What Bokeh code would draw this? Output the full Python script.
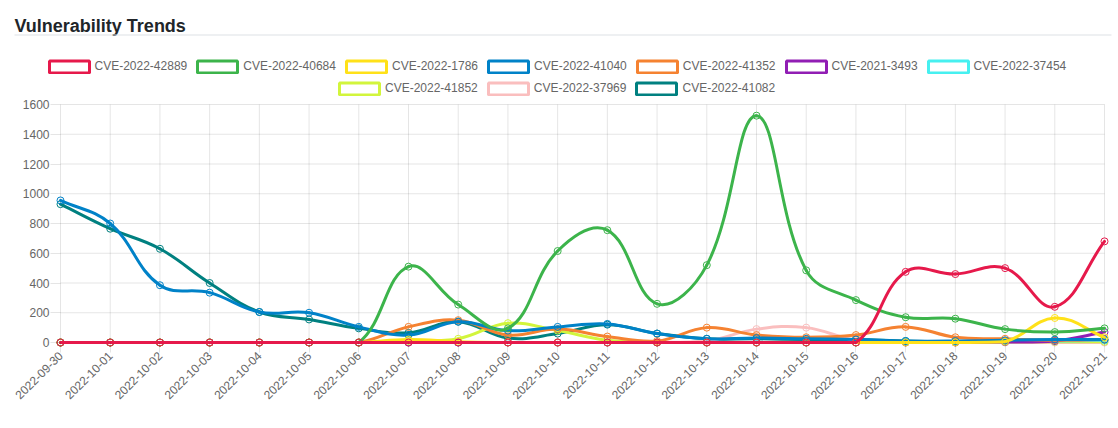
import math
import numpy as np
from bokeh.plotting import figure
from bokeh.models import Range1d, FixedTicker, Legend, LegendItem, Label, BoxAnnotation
from bokeh.embed import file_html
from bokeh.resources import INLINE

# ---------------- data ----------------
dates = ["2022-09-30", "2022-10-01", "2022-10-02", "2022-10-03", "2022-10-04",
         "2022-10-05", "2022-10-06", "2022-10-07", "2022-10-08", "2022-10-09",
         "2022-10-10", "2022-10-11", "2022-10-12", "2022-10-13", "2022-10-14",
         "2022-10-15", "2022-10-16", "2022-10-17", "2022-10-18", "2022-10-19",
         "2022-10-20", "2022-10-21"]

cve_2022_42889 = [0, 0, 0, 0, 0, 0, 0, 0, 0, 0, 0, 0, 0, 0, 0, 0, 0, 475, 460, 500, 240, 680]
cve_2022_40684 = [0, 0, 0, 0, 0, 0, 0, 510, 255, 95, 615, 755, 260, 520, 1525, 485, 285, 170, 160, 90, 70, 95]
cve_2022_1786 = [0, 0, 0, 0, 0, 0, 0, 20, 5, 0, 0, 0, 0, 0, 0, 0, 0, 0, 0, 5, 165, 35]
cve_2022_41040 = [955, 800, 385, 335, 205, 200, 105, 50, 140, 80, 105, 125, 60, 25, 30, 25, 20, 10, 10, 15, 20, 20]
cve_2022_41352 = [0, 0, 0, 0, 0, 0, 0, 105, 150, 50, 90, 40, 10, 100, 50, 35, 50, 105, 35, 25, 15, 20]
cve_2021_3493 = [0, 0, 0, 0, 0, 0, 0, 0, 0, 0, 0, 0, 0, 0, 0, 0, 0, 0, 0, 3, 10, 70]
cve_2022_37454 = [0, 0, 0, 0, 0, 0, 0, 0, 0, 0, 0, 0, 0, 0, 0, 0, 0, 5, 5, 5, 10, 15]
cve_2022_41852 = [0, 0, 0, 0, 0, 0, 0, 10, 25, 130, 80, 15, 0, 0, 0, 0, 0, 5, 5, 5, 5, 5]
cve_2022_37969 = [0, 0, 0, 0, 0, 0, 0, 0, 0, 0, 0, 0, 0, 10, 90, 100, 15, 0, 0, 0, 0, 0]
cve_2022_41082 = [930, 765, 630, 400, 205, 155, 95, 65, 140, 30, 60, 120, 60, 25, 25, 20, 20, 10, 5, 10, 15, 15]

series_names = ["CVE-2022-42889", "CVE-2022-40684", "CVE-2022-1786", "CVE-2022-41040",
                "CVE-2022-41352", "CVE-2021-3493", "CVE-2022-37454", "CVE-2022-41852",
                "CVE-2022-37969", "CVE-2022-41082"]
series_values = [cve_2022_42889, cve_2022_40684, cve_2022_1786, cve_2022_41040,
                 cve_2022_41352, cve_2021_3493, cve_2022_37454, cve_2022_41852,
                 cve_2022_37969, cve_2022_41082]
series_colors = ["#e6194b", "#3cb44b", "#ffe119", "#0082c8", "#f58231",
                 "#911eb4", "#46f0f0", "#d2f53c", "#fabebe", "#008080"]
legend_row1 = 7

title_text = "Vulnerability Trends"
y_ticks = [0, 200, 400, 600, 800, 1000, 1200, 1400, 1600]
y_max = 1600

# ---------------- layout (pixels) ----------------
CANVAS_W, CANVAS_H = 1118, 428
X0_PX, X1_PX = 60, 1104      # first / last date
Y0_PX, Y1_PX = 342, 104      # value 0 / value y_max
TENSION = 0.4
n = len(dates)
xs = list(range(n))
PLOT_W = X1_PX - X0_PX
PLOT_H = Y0_PX - Y1_PX
px_day = PLOT_W / (n - 1)
px_unit = PLOT_H / y_max


def xd(px):
    return (px - X0_PX) / px_day


def yd(py):
    return (Y0_PX - py) / px_unit


p = figure(frame_width=CANVAS_W, frame_height=CANVAS_H,
           x_range=Range1d(xd(0), xd(CANVAS_W)), y_range=Range1d(yd(CANVAS_H), yd(0)),
           output_backend="svg", toolbar_location=None,
           min_border=0, min_border_left=0, min_border_right=0,
           min_border_top=0, min_border_bottom=0)
p.outline_line_color = None
p.background_fill_color = "white"
p.border_fill_color = "white"
p.grid.visible = False

# axes drawn at fixed data locations inside the canvas
p.xaxis.fixed_location = 0
p.yaxis.fixed_location = 0
p.xaxis.bounds = (0, n - 1)
p.yaxis.bounds = (0, y_max)
p.xaxis.ticker = FixedTicker(ticks=xs)
p.xaxis.major_label_overrides = {i: d for i, d in enumerate(dates)}
p.xaxis.major_label_orientation = math.pi / 4
p.yaxis.ticker = FixedTicker(ticks=y_ticks)
p.yaxis.major_label_overrides = {t: str(t) for t in y_ticks}
for ax in (p.xaxis[0], p.yaxis[0]):
    ax.axis_line_color = None
    ax.major_tick_line_color = "black"
    ax.major_tick_line_alpha = 0.1
    ax.major_tick_in = 0
    ax.major_tick_out = 10
    ax.minor_tick_line_color = None
    ax.major_label_text_font = "Liberation Sans"
    ax.major_label_text_font_size = "12px"
    ax.major_label_text_color = "#666666"
    ax.major_label_standoff = 1

# grid lines over the chart area
p.segment(x0=xs, x1=xs, y0=[0] * n, y1=[y_max] * n,
          line_color="black", line_alpha=0.1, line_width=1)
p.segment(x0=[0] * len(y_ticks), x1=[n - 1] * len(y_ticks), y0=y_ticks, y1=y_ticks,
          line_color="black", line_alpha=0.1, line_width=1)


def spline_controls(vals):
    """Chart.js style spline control points (computed in pixel space)."""
    pts = [(i * px_day, v * px_unit) for i, v in enumerate(vals)]
    prev_c, next_c = [], []

    def cap(x, y):
        x = min(max(x, 0.0), PLOT_W)
        y = min(max(y, 0.0), PLOT_H)
        return x / px_day, y / px_unit

    for i in range(len(pts)):
        ax_, ay_ = pts[max(i - 1, 0)]
        cx, cy = pts[i]
        bx, by = pts[min(i + 1, len(pts) - 1)]
        d01 = math.hypot(cx - ax_, cy - ay_)
        d12 = math.hypot(bx - cx, by - cy)
        tot = d01 + d12
        s01 = d01 / tot if tot else 0.0
        s12 = d12 / tot if tot else 0.0
        fa, fb = TENSION * s01, TENSION * s12
        prev_c.append(cap(cx - fa * (bx - ax_), cy - fa * (by - ay_)))
        next_c.append(cap(cx + fb * (bx - ax_), cy + fb * (by - ay_)))
    return prev_c, next_c


# draw datasets in reverse so the first one ends on top
for name, vals, col in reversed(list(zip(series_names, series_values, series_colors))):
    prev_c, next_c = spline_controls(vals)
    p.bezier(x0=xs[:-1], y0=vals[:-1], x1=xs[1:], y1=vals[1:],
             cx0=[c[0] for c in next_c[:-1]], cy0=[c[1] for c in next_c[:-1]],
             cx1=[c[0] for c in prev_c[1:]], cy1=[c[1] for c in prev_c[1:]],
             line_color=col, line_width=3, line_cap="round")
    p.scatter(x=xs, y=vals, size=7, marker="circle", line_color=col,
              line_width=1, fill_alpha=0)

# legend swatches: quads holding a single NaN entry (nothing drawn in the plot)
nan1 = np.array([np.nan])
legend_renderers = []
for name, col in zip(series_names, series_colors):
    r = p.quad(left=nan1, right=nan1, top=nan1, bottom=nan1, fill_color="white",
               line_color=col, line_width=3)
    legend_renderers.append(r)


def make_legend(idx, box_left_px, box_center_px):
    return Legend(items=[LegendItem(label=series_names[i], renderers=[legend_renderers[i]]) for i in idx],
                  location=(box_left_px - 5, CANVAS_H - box_center_px - 7.5),
                  orientation="horizontal", glyph_width=50, glyph_height=15,
                  label_standoff=1, spacing=5, padding=0, margin=0,
                  border_line_alpha=0, background_fill_alpha=0,
                  label_text_font="Liberation Sans", label_text_font_size="12px",
                  label_text_color="#666666", label_height=15, label_text_baseline="middle")


p.add_layout(make_legend(range(0, legend_row1), 48.5, 66))
p.add_layout(make_legend(range(legend_row1, len(series_names)), 339, 88))

# header: title and rule
p.add_layout(Label(x=xd(14), y=yd(25), text=title_text,
                   text_font="Liberation Sans", text_font_size="18px", text_font_style="bold",
                   text_color="#212529", text_baseline="alphabetic", text_align="left"))
p.add_layout(BoxAnnotation(left=xd(14), right=xd(1111), bottom=yd(35), top=yd(34),
                           fill_color="#dee2e6", fill_alpha=1, line_alpha=0))

open("out.html", "w").write(file_html(p, INLINE))
